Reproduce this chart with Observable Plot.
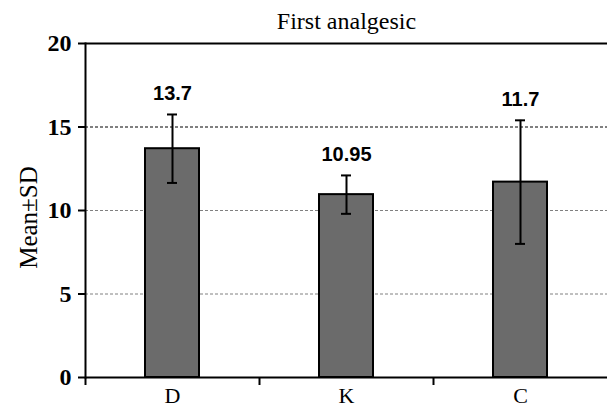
<!DOCTYPE html>
<html>
<head>
<meta charset="utf-8">
<script src="https://cdn.jsdelivr.net/npm/d3@7"></script>
<script src="https://cdn.jsdelivr.net/npm/@observablehq/plot@0.6"></script>
<style>
  html, body { margin: 0; padding: 0; background: #fff; }
  #chart { width: 607px; height: 409px; }
</style>
</head>
<body>
<div id="chart"></div>
<script>
const title = "First analgesic";
const yLabel = "Mean±SD";
const groups = ["D", "K", "C"];
const means = [13.7, 10.95, 11.7];
const sds = [2.05, 1.15, 3.7];
const valueLabels = ["13.7", "10.95", "11.7"];
const yTicks = [0, 5, 10, 15, 20];

const data = groups.map((g, i) => ({
  group: g, mean: means[i], lo: means[i] - sds[i], hi: means[i] + sds[i], label: valueLabels[i]
}));

const serif = "'Liberation Serif', 'Times New Roman', serif";
const W = 607, H = 409, mL = 85, mR = 0, mT = 43, mB = 32;
const band = (W - mL - mR) / groups.length;

const chart = Plot.plot({
  width: W, height: H,
  marginLeft: mL, marginRight: mR, marginTop: mT, marginBottom: mB,
  style: { background: "#fff", fontFamily: serif, overflow: "visible" },
  x: { domain: groups, padding: 0 },
  y: { domain: [0, 20] },
  marks: [
    Plot.ruleY([5, 10], { stroke: "#808080", strokeWidth: 1, strokeDasharray: "3,2" }),
    Plot.ruleY([15], { stroke: "#000", strokeWidth: 1, strokeDasharray: "3,2" }),
    Plot.ruleY([20], { stroke: "#000", strokeWidth: 2 }),
    Plot.barY(data, { x: "group", y: "mean", fill: "#6b6b6b", stroke: "#000", strokeWidth: 2,
      insetLeft: (band - 54) / 2, insetRight: (band - 54) / 2 }),
    Plot.ruleX(data, { x: "group", y1: "lo", y2: "hi", stroke: "#000", strokeWidth: 2 }),
    Plot.tickY(data, { x: "group", y: "lo", stroke: "#000", strokeWidth: 2,
      insetLeft: (band - 10) / 2, insetRight: (band - 10) / 2 }),
    Plot.tickY(data, { x: "group", y: "hi", stroke: "#000", strokeWidth: 2,
      insetLeft: (band - 10) / 2, insetRight: (band - 10) / 2 }),
    Plot.text(data, { x: "group", y: "hi", text: "label", dy: -21,
      fontFamily: "'Liberation Sans', Arial, sans-serif", fontWeight: "bold", fontSize: 20, fill: "#000" }),
    Plot.ruleY([0], { stroke: "#000", strokeWidth: 2 }),
    Plot.frame({ anchor: "left", stroke: "#000", strokeWidth: 2 }),
    Plot.axisY({ ticks: yTicks, tickSize: 7, tickPadding: 7, fontSize: 24, fontWeight: "bold",
      fontFamily: serif, stroke: "#000", strokeWidth: 2, color: "#000", label: null }),
    Plot.text([yLabel], { frameAnchor: "left", textAnchor: "middle", lineAnchor: "middle", rotate: -90,
      dx: -57, dy: 7, fontSize: 25, fontFamily: serif, fill: "#000" }),
    Plot.axisX({ ticks: groups, tickFormat: () => "", tickSize: 8, dx: -band / 2, strokeWidth: 2, stroke: "#000", label: null }),
    Plot.axisX({ ticks: groups, tickSize: 0, tickPadding: 10, fontSize: 22, fontFamily: serif, color: "#000", label: null }),
    Plot.text([title], { frameAnchor: "top", lineAnchor: "middle", dy: -22, fontSize: 24, fontFamily: serif, fill: "#000" })
  ]
});

document.getElementById("chart").appendChild(chart);
</script>
</body>
</html>
